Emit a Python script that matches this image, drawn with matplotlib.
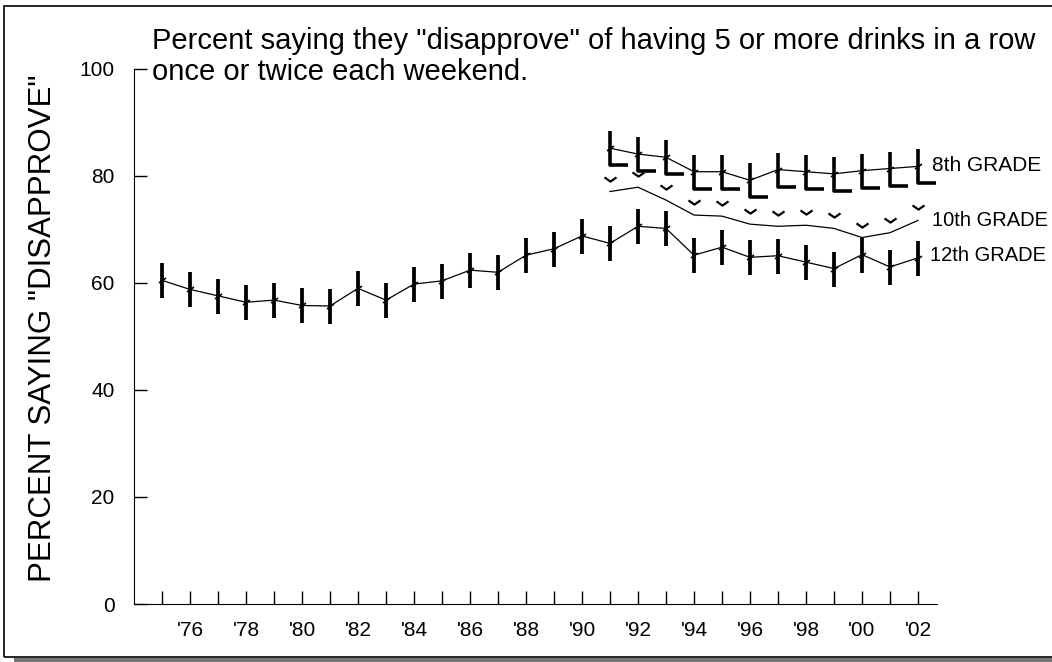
import numpy as np
import matplotlib
matplotlib.use("Agg")
import matplotlib.pyplot as plt
from matplotlib.path import Path
from matplotlib.markers import MarkerStyle
from matplotlib.patches import Rectangle
from matplotlib.transforms import offset_copy

plt.rcParams["font.family"] = ["Liberation Sans", "DejaVu Sans"]

# data
years12 = np.arange(1975, 2003)
grade12 = [60.5, 58.8, 57.6, 56.4, 56.8, 55.8, 55.7, 59.0, 56.8, 59.8,
           60.4, 62.4, 62.0, 65.2, 66.4, 68.8, 67.4, 70.6, 70.2, 65.2,
           66.7, 64.8, 65.1, 63.9, 62.7, 65.3, 63.0, 64.7]

years_8_10 = np.arange(1991, 2003)
grade8 = [85.2, 84.1, 83.5, 80.8, 80.8, 79.2, 81.2, 80.8, 80.4, 81.0, 81.4, 81.8]
grade10 = [77.1, 77.9, 75.5, 72.7, 72.5, 71.0, 70.6, 70.8, 70.2, 68.5, 69.4, 71.7]

tick_years = np.arange(1975, 2003)
tick_labels = ["'%02d" % (y % 100) if y % 2 == 0 else "" for y in tick_years]
y_ticks = [0, 20, 40, 60, 80, 100]

title = 'Percent saying they "disapprove" of having 5 or more drinks in a row\nonce or twice each weekend.'

PX = 0.72  # points per pixel at dpi 100

fig = plt.figure(figsize=(10.52, 6.62), dpi=100)
ax = fig.add_axes([134 / 1052, 1 - 604 / 662, (937 - 134) / 1052, (604 - 69) / 662])

# custom glyph-like markers
bar_tick = Path([(-1, -0.7), (1, 0.7)], [Path.MOVETO, Path.LINETO])
ell = MarkerStyle(Path([(0, 1), (0, -1), (1.05, -1)], [Path.MOVETO, Path.LINETO, Path.LINETO]),
                  joinstyle="miter", capstyle="butt")
caron = MarkerStyle(Path([(-1, 0.35), (0, -0.35), (1, 0.35)], [Path.MOVETO, Path.LINETO, Path.LINETO]),
                    joinstyle="miter")

# 12th grade
ax.plot(years12, grade12, color="black", lw=0.9)
ax.plot(years12, grade12, ls="none", marker="|", ms=35 * PX, mew=3.8 * PX, color="black")
ax.plot(years12, grade12, ls="none", marker=bar_tick, ms=7 * PX, mew=1.2, color="black")

# 8th grade
ax.plot(years_8_10, grade8, color="black", lw=0.9)
ax.plot(years_8_10, grade8, ls="none", marker=ell, ms=36 * PX, mew=3.6 * PX,
        mfc="none", color="black")
ax.plot(years_8_10, grade8, ls="none", marker=bar_tick, ms=7 * PX, mew=1.2, color="black")

# 10th grade, marks sit above the line
ax.plot(years_8_10, grade10, color="black", lw=0.9)
up = offset_copy(ax.transData, fig=fig, x=0, y=13, units="dots")
ax.plot(years_8_10, grade10, ls="none", marker=caron, ms=12 * PX, mew=2.2 * PX,
        mfc="none", color="black", transform=up)

ax.annotate("8th GRADE", (years_8_10[-1], grade8[-1]), xytext=(14 * PX, 1 * PX),
            textcoords="offset points", va="center", ha="left", fontsize=15)
ax.annotate("10th GRADE", (years_8_10[-1], grade10[-1]), xytext=(14 * PX, 0),
            textcoords="offset points", va="center", ha="left", fontsize=14.5)
ax.annotate("12th GRADE", (years12[-1], grade12[-1]), xytext=(12 * PX, 2 * PX),
            textcoords="offset points", va="center", ha="left", fontsize=14.5)

ax.set_xlim(1974, 1974 + (937 - 134) / 28)
ax.set_ylim(0, 100)
ax.set_xticks(tick_years)
ax.set_xticklabels(tick_labels)
ax.set_yticks(y_ticks)
ax.tick_params(direction="in", length=13 * PX, width=1, labelsize=15, pad=12)
ax.tick_params(axis="y", pad=14)
ax.spines["top"].set_visible(False)
ax.spines["right"].set_visible(False)
ax.set_ylabel('PERCENT SAYING "DISAPPROVE"', fontsize=22.5)
ax.yaxis.set_label_coords(-0.095, 0.515)

fig.text(152 / 1052, 1 - 27 / 662, title, fontsize=21, va="top", ha="left", linespacing=1.12)

# page frame with shadow
fig.patches.append(Rectangle((4 / 1052, 1 - 657 / 662), 1.1, 651 / 662, transform=fig.transFigure,
                             fill=False, edgecolor="black", lw=1.2))
fig.patches.append(Rectangle((14 / 1052, 0), 1.0, 4 / 662, transform=fig.transFigure,
                             facecolor="#777777", edgecolor="none"))

fig.savefig("out.png", dpi=100)
